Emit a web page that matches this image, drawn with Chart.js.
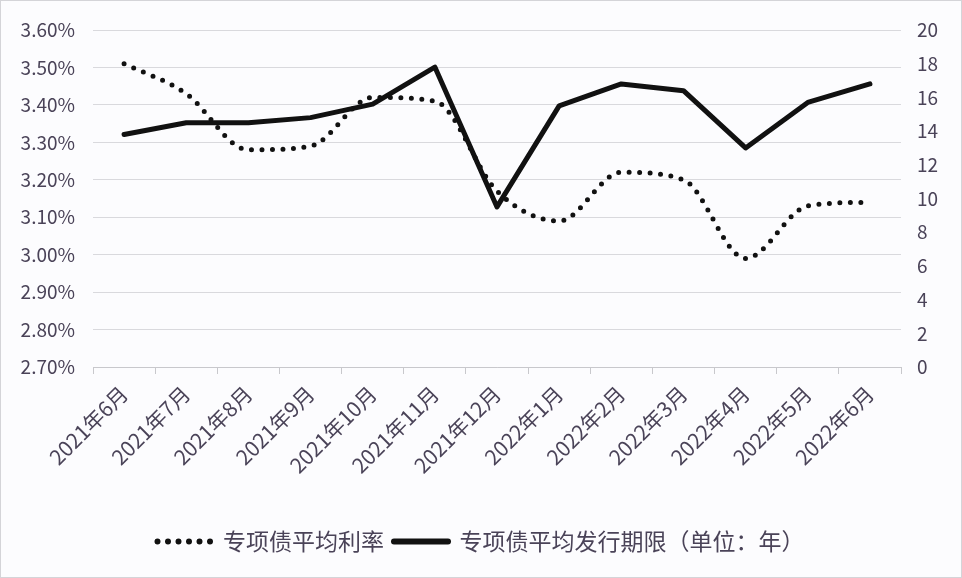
<!DOCTYPE html>
<html>
<head>
<meta charset="utf-8">
<script src="https://cdn.jsdelivr.net/npm/chart.js@4/dist/chart.umd.min.js"></script>
<style>
html,body{margin:0;padding:0;background:#ffffff;}
#wrap{width:962px;height:578px;}
</style>
</head>
<body>
<div id="wrap"><canvas id="c" width="962" height="578"></canvas></div>
<script>
const categories = ['2021年6月','2021年7月','2021年8月','2021年9月','2021年10月','2021年11月','2021年12月','2022年1月','2022年2月','2022年3月','2022年4月','2022年5月','2022年6月'];
const avgRate = [3.51, 3.43, 3.28, 3.29, 3.42, 3.41, 3.17, 3.09, 3.22, 3.20, 2.99, 3.13, 3.14];
const avgTerm = [13.8, 14.5, 14.5, 14.8, 15.6, 17.8, 9.5, 15.5, 16.8, 16.4, 13.0, 15.7, 16.8];
const rateLabel = '专项债平均利率';
const termLabel = '专项债平均发行期限（单位：年）';

const textColor = '#4a4358';
const fontFam = '"Noto Sans CJK SC", "Noto Sans", sans-serif';

const bgPlugin = {
  id: 'bg',
  beforeDraw(chart) {
    const ctx = chart.ctx;
    ctx.save();
    ctx.fillStyle = '#fcfcfe';
    ctx.fillRect(0, 0, chart.width, chart.height);
    ctx.strokeStyle = '#d4d4d8';
    ctx.lineWidth = 1;
    ctx.strokeRect(0.5, 0.5, chart.width - 1, chart.height - 1);
    ctx.restore();
  }
};

new Chart(document.getElementById('c'), {
  type: 'line',
  data: {
    labels: categories,
    datasets: [
      {
        label: rateLabel,
        data: avgRate,
        yAxisID: 'y',
        borderColor: '#111111',
        backgroundColor: '#111111',
        borderWidth: 5,
        borderDash: [0, 10.5],
        borderCapStyle: 'round',
        cubicInterpolationMode: 'monotone',
        pointRadius: 0,
        fill: false
      },
      {
        label: termLabel,
        data: avgTerm,
        yAxisID: 'y1',
        borderColor: '#111111',
        backgroundColor: '#111111',
        borderWidth: 5,
        borderCapStyle: 'round',
        borderJoinStyle: 'round',
        tension: 0,
        pointRadius: 0,
        fill: false
      }
    ]
  },
  options: {
    responsive: false,
    animation: false,
    devicePixelRatio: 1,
    layout: { padding: { top: 30, bottom: 15, left: 0, right: 0 } },
    plugins: {
      legend: {
        position: 'bottom',
        labels: {
          usePointStyle: true,
          pointStyle: 'line',
          pointStyleWidth: 54,
          boxWidth: 54,
          padding: 10,
          color: textColor,
          font: { size: 23, family: fontFam },
          generateLabels(chart) {
            return chart.data.datasets.map((ds, i) => ({
              text: ds.label,
              datasetIndex: i,
              fillStyle: ds.borderColor,
              strokeStyle: ds.borderColor,
              fontColor: textColor,
              lineWidth: 6,
              lineDash: ds.borderDash || [],
              lineCap: 'round',
              pointStyle: 'line',
              hidden: false
            }));
          }
        }
      },
      tooltip: { enabled: false }
    },
    scales: {
      x: {
        offset: true,
        grid: {
          offset: true,
          drawOnChartArea: false,
          drawTicks: true,
          tickLength: 7,
          color: '#c8c8cc'
        },
        border: { color: '#c8c8cc', width: 1 },
        ticks: {
          color: textColor,
          minRotation: 45,
          maxRotation: 45,
          autoSkip: false,
          padding: 7,
          font: { size: 21, family: fontFam }
        },
        afterFit(scale) { scale.height = 153; }
      },
      y: {
        position: 'left',
        min: 2.70,
        max: 3.60,
        grid: { color: '#d9d9dd', drawTicks: false, lineWidth: 1 },
        border: { display: false },
        ticks: {
          stepSize: 0.1,
          padding: 18,
          color: textColor,
          font: { size: 19, family: fontFam },
          callback: v => v.toFixed(2) + '%'
        },
        afterFit(scale) { scale.width = 93; }
      },
      y1: {
        position: 'right',
        min: 0,
        max: 20,
        grid: { drawOnChartArea: false, drawTicks: false },
        border: { display: false },
        ticks: {
          stepSize: 2,
          padding: 16,
          color: textColor,
          font: { size: 19, family: fontFam }
        },
        afterFit(scale) { scale.width = 61; }
      }
    }
  },
  plugins: [bgPlugin]
});
</script>
</body>
</html>
